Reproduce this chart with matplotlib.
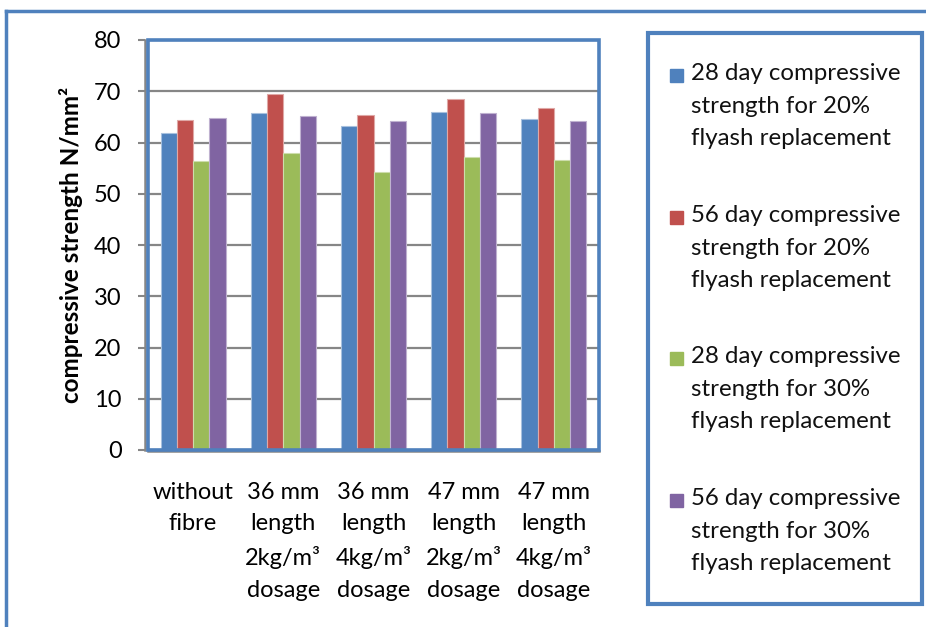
import matplotlib
matplotlib.use("Agg")
import matplotlib.pyplot as plt
import numpy as np
from matplotlib.patches import Rectangle
from matplotlib.lines import Line2D

plt.rcParams['font.family'] = ['Lato', 'DejaVu Sans']

categories = ["without\nfibre",
              "36 mm\nlength\n2kg/m³\ndosage",
              "36 mm\nlength\n4kg/m³\ndosage",
              "47 mm\nlength\n2kg/m³\ndosage",
              "47 mm\nlength\n4kg/m³\ndosage"]
series_labels = ["28 day compressive\nstrength for 20%\nflyash replacement",
                 "56 day compressive\nstrength for 20%\nflyash replacement",
                 "28 day compressive\nstrength for 30%\nflyash replacement",
                 "56 day compressive\nstrength for 30%\nflyash replacement"]
d28_20 = [61.9, 65.8, 63.2, 65.9, 64.6]
d56_20 = [64.4, 69.4, 65.3, 68.4, 66.7]
d28_30 = [56.3, 58.0, 54.3, 57.2, 56.5]
d56_30 = [64.7, 65.1, 64.2, 65.8, 64.1]
series = [d28_20, d56_20, d28_30, d56_30]
colors = ["#4F81BD", "#C0504D", "#9BBB59", "#8064A2"]
edges = ["#A7C0DE", "#DFA8A6", "#CDDDAC", "#BFB1D0"]
frame_blue = "#4F81BD"
grid_gray = "#868686"

W, H = 926, 627
fig = plt.figure(figsize=(W / 100, H / 100), dpi=100)

# outer frame (left and top edges visible)
fig.add_artist(Line2D([6 / W, 6 / W], [0, 1 - 11 / H], transform=fig.transFigure,
                      color=frame_blue, lw=2.5))
fig.add_artist(Line2D([6 / W, 1], [1 - 11 / H, 1 - 11 / H], transform=fig.transFigure,
                      color=frame_blue, lw=2.5))

ax = fig.add_axes([148 / W, 1 - 450 / H, 451 / W, 410 / H])
x = np.arange(len(categories))
bw = 0.18
for i, (vals, c, ec) in enumerate(zip(series, colors, edges)):
    ax.bar(x + (i - 1.5) * bw, vals, width=bw, color=c, edgecolor=ec,
           linewidth=0.8, zorder=3)

ax.set_xlim(-0.5, len(categories) - 0.5)
ax.set_ylim(0, 80)
ax.set_yticks(np.arange(0, 81, 10))
ax.yaxis.grid(True, color=grid_gray, lw=1.6, zorder=1)
ax.set_axisbelow(True)

for s in ["top", "right"]:
    ax.spines[s].set_visible(False)
ax.spines["left"].set_color(grid_gray)
ax.spines["left"].set_linewidth(1.8)
ax.spines["left"].set_position(("outward", 2))
ax.spines["bottom"].set_color(grid_gray)
ax.spines["bottom"].set_linewidth(1.8)
ax.spines["bottom"].set_position(("outward", 1))
ax.add_patch(Rectangle((0, 0), 1, 1, transform=ax.transAxes, fill=False,
                       edgecolor=frame_blue, lw=2.6, clip_on=False, zorder=5))

ax.tick_params(axis="y", length=5, width=1.5, color=grid_gray, labelsize=17, pad=12)
ax.tick_params(axis="x", length=0, labelsize=17, pad=22)
ax.set_xticks(x)
ax.set_xticklabels(categories, linespacing=1.62, va="top")
ax.set_ylabel("compressive strength N/mm²", fontsize=17.5, fontweight="bold", labelpad=8)

# legend box
fig.add_artist(Rectangle((648 / W, 1 - 604 / H), 274 / W, 571 / H,
                         transform=fig.transFigure, fill=False,
                         edgecolor=frame_blue, lw=3))
entry_tops = [75, 217, 358, 500]
for lab, c, ty in zip(series_labels, colors, entry_tops):
    fig.add_artist(Rectangle((670 / W, 1 - (ty + 7) / H), 13 / W, 13 / H,
                             transform=fig.transFigure, color=c))
    fig.text(691 / W, 1 - (ty - 12) / H, lab, fontsize=17.3, va="top", ha="left",
             linespacing=1.68, color="#111111")

fig.savefig("out.png", dpi=100)
